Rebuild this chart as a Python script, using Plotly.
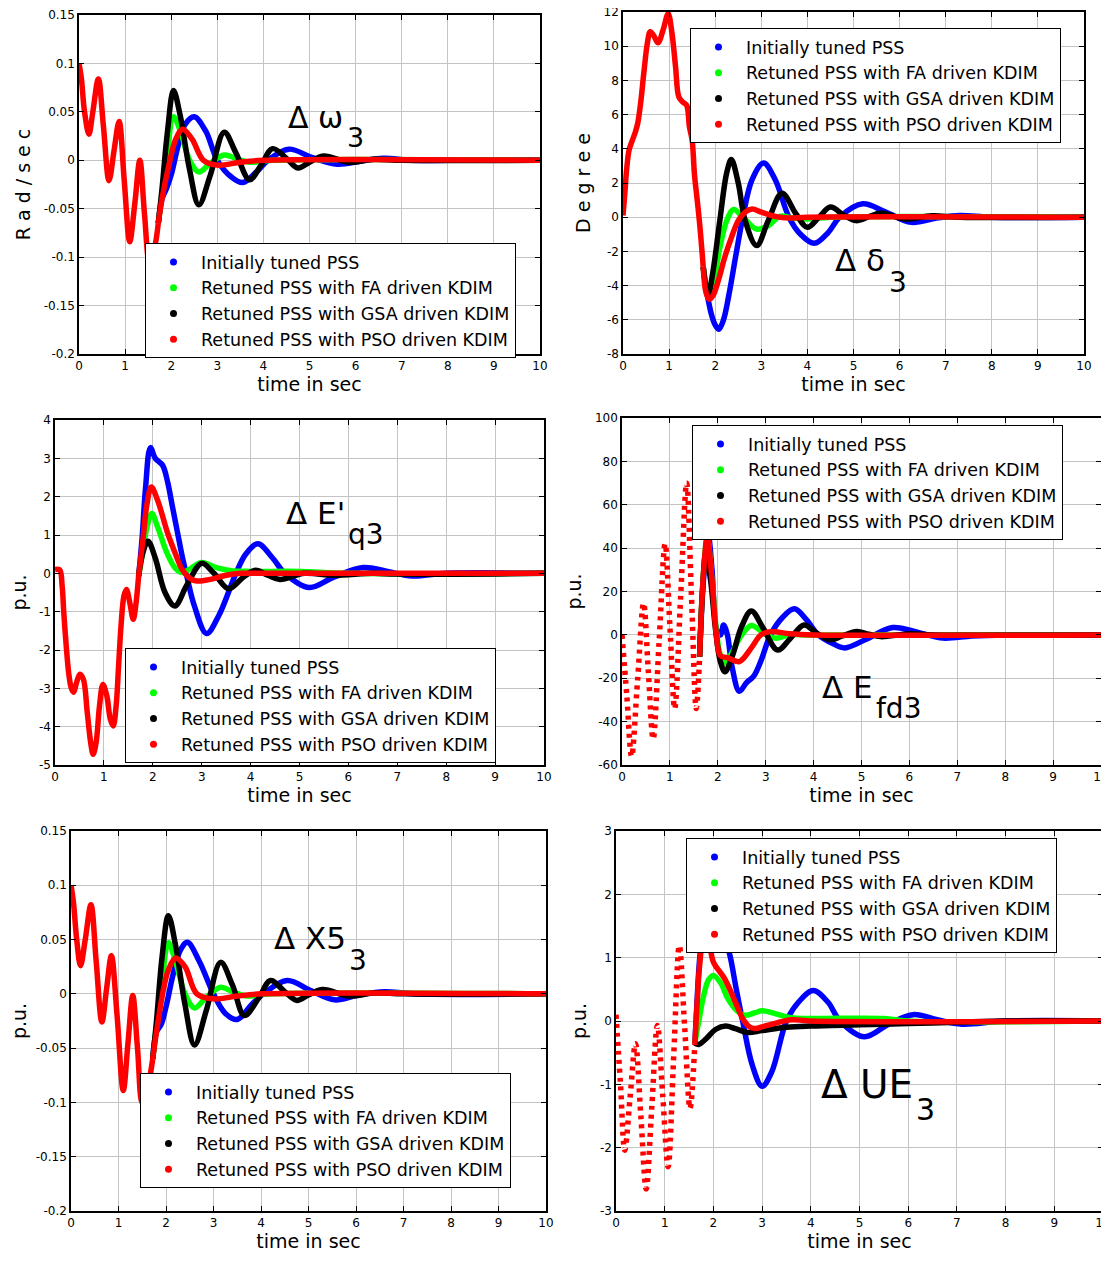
import plotly.graph_objects as go

W, H = 1109, 1261
OFF = 8  # page body margin of the browser
FONT = "DejaVu Sans, Liberation Sans, Arial, sans-serif"

# ---------------- shared labels ----------------
series_names = ["Initially tuned PSS",
                "Retuned PSS with FA driven KDIM",
                "Retuned PSS with GSA driven KDIM",
                "Retuned PSS with PSO driven KDIM"]
series_colors = ["#0000ff", "#00ff00", "#000000", "#ff0000"]
x_ticks = [0, 1, 2, 3, 4, 5, 6, 7, 8, 9, 10]

# ---------------- Panel 1 : delta omega3 ----------------
w_pre_t = [0, 0.05, 0.12, 0.215, 0.3, 0.42, 0.53, 0.65, 0.76, 0.87, 0.98, 1.1, 1.21, 1.32, 1.42, 1.53, 1.64, 1.72]
w_pre_y = [0.1, 0.085, 0.05, 0.027, 0.05, 0.084, 0.035, -0.021, 0.01, 0.040, -0.02, -0.084, -0.045, 0.0, -0.055, -0.105, -0.09, -0.065]
w_blue_t = [1.72, 1.8, 1.9, 2.0, 2.15, 2.3, 2.5, 2.75, 3.0, 3.3, 3.55, 3.85, 4.1, 4.55, 5.05, 5.6, 6.1, 6.6, 7.2, 8, 10]
w_blue_y = [-0.065, -0.04, -0.029, -0.015, 0.015, 0.037, 0.045, 0.03, 0.0, -0.017, -0.023, -0.012, 0.0, 0.0115, 0.003, -0.004, -0.001, 0.002, 0.0, 0.0, 0.0]
w_green_t = [1.72, 1.8, 1.9, 2.05, 2.2, 2.4, 2.6, 2.85, 3.15, 3.4, 3.7, 4.2, 10]
w_green_y = [-0.065, -0.035, 0.0, 0.045, 0.03, 0.0, -0.012, -0.003, 0.0055, 0.002, -0.002, 0.0, 0.0]
w_black_t = [1.72, 1.8, 1.92, 2.05, 2.2, 2.4, 2.6, 2.85, 3.15, 3.4, 3.7, 3.95, 4.2, 4.5, 4.75, 5.0, 5.3, 5.85, 6.4, 7, 10]
w_black_y = [-0.065, -0.03, 0.03, 0.072, 0.045, -0.01, -0.046, -0.015, 0.029, 0.008, -0.02, -0.005, 0.012, 0.002, -0.008, -0.002, 0.0045, -0.002, 0.001, 0.0, 0.0]
w_red_t = [1.72, 1.8, 1.95, 2.1, 2.25, 2.45, 2.7, 3.0, 3.5, 4.0, 10]
w_red_y = [-0.065, -0.04, -0.005, 0.022, 0.032, 0.022, 0.0, -0.005, -0.002, 0.0, 0.0]
w_yticks = [0.15, 0.1, 0.05, 0, -0.05, -0.1, -0.15, -0.2]
w_yticktext = ["0.15", "0.1", "0.05", "0", "-0.05", "-0.1", "-0.15", "-0.2"]

# ---------------- Panel 2 : delta delta3 ----------------
d_pre_t = [0, 0.04, 0.076, 0.13, 0.19, 0.27, 0.32, 0.39, 0.45, 0.53, 0.59, 0.67, 0.76, 0.87, 0.98, 1.06, 1.14, 1.21, 1.29, 1.38, 1.44, 1.5, 1.55, 1.61, 1.67, 1.74]
d_pre_y = [0.1, 1.4, 2.7, 3.9, 4.4, 5.0, 5.5, 6.85, 8.4, 10.2, 10.85, 10.6, 10.2, 10.95, 11.9, 10.8, 8.8, 7.05, 6.75, 6.55, 5.3, 4.5, 2.5, 1.0, -0.6, -2.9]
d_blue_t = [1.74, 1.82, 1.92, 2.0, 2.08, 2.18, 2.3, 2.45, 2.6, 2.8, 3.05, 3.3, 3.6, 3.85, 4.15, 4.45, 4.7, 5.2, 5.7, 6.25, 6.8, 7.3, 8, 10]
d_blue_y = [-2.9, -4.4, -5.7, -6.3, -6.55, -6.0, -4.5, -2.2, 0.0, 2.2, 3.17, 2.2, 0.0, -1.0, -1.53, -0.9, 0.0, 0.78, 0.3, -0.3, -0.05, 0.1, 0.0, 0.0]
d_green_t = [1.74, 1.81, 1.88, 1.98, 2.1, 2.25, 2.4, 2.6, 2.9, 3.15, 3.4, 3.7, 4.0, 4.5, 10]
d_green_y = [-2.9, -4.0, -4.3, -3.6, -1.8, -0.2, 0.45, 0.0, -0.7, -0.5, 0.05, -0.05, -0.1, 0.0, 0.0]
d_black_t = [1.74, 1.8, 1.85, 1.95, 2.1, 2.25, 2.35, 2.5, 2.65, 2.9, 3.15, 3.45, 3.75, 4.0, 4.25, 4.5, 4.8, 5.05, 5.35, 5.6, 6.1, 6.7, 7.3, 10]
d_black_y = [-2.9, -4.1, -4.5, -3.2, -0.2, 2.6, 3.37, 2.0, -0.2, -1.66, -0.2, 1.4, 0.2, -0.59, 0.0, 0.59, 0.1, -0.2, 0.05, 0.25, -0.1, 0.08, 0.0, 0.0]
d_red_t = [1.74, 1.8, 1.87, 1.95, 2.1, 2.2, 2.35, 2.5, 2.65, 2.8, 3.0, 3.3, 3.6, 4.0, 10]
d_red_y = [-2.9, -4.4, -4.8, -4.6, -3.4, -2.4, -1.2, -0.2, 0.3, 0.48, 0.3, 0.05, -0.05, 0.0, 0.0]
d_yticks = [12, 10, 8, 6, 4, 2, 0, -2, -4, -6, -8]
d_yticktext = ["12", "10", "8", "6", "4", "2", "0", "-2", "-4", "-6", "-8"]

# ---------------- Panel 3 : delta E'q3 ----------------
e_pre_t = [0, 0.095, 0.146, 0.18, 0.23, 0.28, 0.33, 0.38, 0.44, 0.51, 0.58, 0.66, 0.73, 0.78, 0.84, 0.91, 0.98, 1.06, 1.13, 1.19, 1.25, 1.3, 1.35, 1.41, 1.46, 1.53, 1.6, 1.65, 1.71]
e_pre_y = [0.1, 0.09, -0.33, -1.03, -1.9, -2.6, -2.98, -3.1, -2.85, -2.63, -2.76, -3.63, -4.42, -4.72, -4.42, -3.46, -2.9, -3.2, -3.8, -3.98, -3.46, -2.42, -1.37, -0.59, -0.42, -0.77, -1.2, -0.85, -0.07]
e_blue_t = [1.71, 1.78, 1.85, 1.95, 2.05, 2.2, 2.3, 2.4, 2.5, 2.6, 2.7, 2.85, 3.1, 3.35, 3.7, 3.9, 4.15, 4.45, 4.7, 5.2, 5.7, 6.3, 6.8, 7.3, 8, 10]
e_blue_y = [-0.07, 0.9, 2.2, 3.28, 3.0, 2.82, 2.4, 1.75, 1.1, 0.45, -0.1, -0.85, -1.57, -1.1, 0.0, 0.5, 0.77, 0.4, 0.0, -0.37, -0.1, 0.15, 0.05, -0.07, 0.0, 0.0]
e_green_t = [1.71, 1.8, 1.88, 1.98, 2.1, 2.3, 2.45, 2.6, 2.8, 3.0, 3.3, 3.6, 4.0, 5.0, 6.0, 10]
e_green_y = [-0.07, 0.6, 1.2, 1.56, 1.2, 0.5, 0.15, 0.02, 0.15, 0.28, 0.15, 0.07, 0.05, 0.05, 0.0, 0.0]
e_black_t = [1.71, 1.8, 1.9, 2.05, 2.25, 2.45, 2.7, 3.0, 3.25, 3.55, 3.85, 4.1, 4.35, 4.6, 5.1, 5.7, 6.5, 7.0, 10]
e_black_y = [-0.07, 0.55, 0.84, 0.4, -0.5, -0.85, -0.3, 0.26, 0.0, -0.4, -0.1, 0.08, -0.05, -0.16, 0.0, -0.05, 0.0, -0.02, 0.0]
e_red_t = [1.71, 1.8, 1.88, 1.97, 2.1, 2.3, 2.45, 2.6, 2.75, 2.9, 3.2, 3.5, 3.8, 4.2, 10]
e_red_y = [-0.07, 0.9, 1.8, 2.25, 1.9, 1.06, 0.55, 0.1, -0.12, -0.2, -0.15, -0.05, 0.0, 0.0, 0.0]
e_yticks = [4, 3, 2, 1, 0, -1, -2, -3, -4, -5]
e_yticktext = ["4", "3", "2", "1", "0", "-1", "-2", "-3", "-4", "-5"]

# ---------------- Panel 4 : delta Efd3 ----------------
f_pre_t = [0, 0.1, 0.2, 0.325, 0.45, 0.55, 0.65, 0.775, 0.9, 1.0, 1.1, 1.225, 1.35, 1.45, 1.55, 1.62]
f_pre_y = [0, -28, -56, -21, 14.6, -17, -48, -3, 42, 4, -34, 18, 70, 18, -34, -10]
f_blue_t = [1.62, 1.7, 1.8, 1.88, 1.98, 2.06, 2.12, 2.2, 2.3, 2.45, 2.6, 2.75, 2.9, 3.1, 3.35, 3.6, 3.85, 4.1, 4.4, 4.65, 5.1, 5.65, 6.2, 6.7, 7.3, 8, 10]
f_blue_y = [-10, 25, 46, 30, 2, 0, 4.6, 0, -15, -26, -22, -19, -12, 0, 8, 12, 7, 0, -4, -6, -2, 3.4, 1, -1.5, -0.5, 0, 0]
f_green_t = [1.62, 1.7, 1.78, 1.88, 1.97, 2.05, 2.15, 2.3, 2.5, 2.7, 2.95, 3.2, 3.5, 4.0, 10]
f_green_y = [-10, 28, 45, 25, 2, -9, -13, -8, 0, 4.3, 1, -1.5, 0, 0, 0]
f_black_t = [1.62, 1.68, 1.75, 1.85, 1.95, 2.05, 2.15, 2.3, 2.5, 2.7, 2.95, 3.25, 3.5, 3.8, 4.05, 4.35, 4.6, 4.9, 5.15, 5.4, 6.0, 6.5, 10]
f_black_y = [-10, 20, 37.6, 25, 3, -12, -17, -10, 4, 11, 3, -7, -2, 4.6, 1, -2.3, -0.5, 1.5, 0.3, -0.8, 0.5, 0, 0]
f_red_t = [1.62, 1.7, 1.78, 1.88, 1.97, 2.05, 2.2, 2.45, 2.7, 2.9, 3.1, 3.5, 4.0, 10]
f_red_y = [-10, 28, 45, 25, 0, -9.5, -10.5, -12.3, -6, 0, 1.5, 0.5, 0, 0]
f_yticks = [100, 80, 60, 40, 20, 0, -20, -40, -60]
f_yticktext = ["100", "80", "60", "40", "20", "0", "-20", "-40", "-60"]

# ---------------- Panel 5 : delta X5_3 ----------------
x_pre_t = [0, 0.05, 0.12, 0.2, 0.3, 0.42, 0.53, 0.65, 0.75, 0.85, 0.97, 1.1, 1.2, 1.3, 1.4, 1.5, 1.62, 1.72]
x_pre_y = [0.1, 0.085, 0.05, 0.026, 0.05, 0.082, 0.03, -0.026, 0.005, 0.035, -0.02, -0.089, -0.045, -0.0015, -0.05, -0.1, -0.085, -0.06]
x_blue_t = [1.72, 1.8, 1.9, 2.0, 2.15, 2.3, 2.45, 2.7, 3.0, 3.25, 3.5, 3.8, 4.05, 4.55, 5.05, 5.55, 6.05, 6.6, 7.2, 10]
x_blue_y = [-0.06, -0.035, -0.028, -0.012, 0.018, 0.04, 0.0475, 0.03, 0.0, -0.018, -0.0236, -0.01, 0.0, 0.0123, 0.003, -0.0055, -0.001, 0.002, 0.0, 0.0]
x_green_t = [1.72, 1.8, 1.9, 2.05, 2.2, 2.4, 2.6, 2.85, 3.15, 3.4, 3.7, 4.2, 10]
x_green_y = [-0.06, -0.03, 0.005, 0.047, 0.03, 0.0, -0.013, -0.003, 0.006, 0.002, -0.002, 0.0, 0.0]
x_black_t = [1.72, 1.8, 1.92, 2.05, 2.2, 2.4, 2.6, 2.85, 3.15, 3.4, 3.65, 3.95, 4.2, 4.5, 4.75, 5.0, 5.3, 5.85, 6.4, 7, 10]
x_black_y = [-0.06, -0.025, 0.035, 0.072, 0.045, -0.01, -0.047, -0.015, 0.029, 0.008, -0.02, -0.004, 0.0123, 0.002, -0.006, -0.001, 0.004, -0.002, 0.001, 0.0, 0.0]
x_red_t = [1.72, 1.8, 1.95, 2.05, 2.2, 2.4, 2.65, 3.0, 3.5, 4.0, 10]
x_red_y = [-0.06, -0.035, 0.005, 0.022, 0.033, 0.025, 0.0, -0.0046, -0.002, 0.0, 0.0]
x_yticks = w_yticks
x_yticktext = w_yticktext

# ---------------- Panel 6 : delta UE3 ----------------
u_pre_t = [0, 0.09, 0.18, 0.29, 0.4, 0.51, 0.62, 0.735, 0.85, 0.96, 1.07, 1.185, 1.3, 1.41, 1.52, 1.62]
u_pre_y = [0.1, -0.97, -2.04, -1.2, -0.36, -1.5, -2.65, -1.36, -0.07, -1.18, -2.3, -0.55, 1.19, -0.1, -1.38, -0.35]
u_blue_t = [1.62, 1.66, 1.72, 1.8, 1.9, 2.0, 2.12, 2.25, 2.35, 2.47, 2.6, 2.8, 3.0, 3.2, 3.5, 3.75, 4.05, 4.35, 4.6, 5.1, 5.6, 6.1, 6.6, 7.1, 8, 10]
u_blue_y = [-0.35, 0.25, 1.0, 1.45, 1.65, 1.7, 1.6, 1.3, 1.0, 0.5, 0.0, -0.7, -1.03, -0.8, 0.0, 0.3, 0.48, 0.3, 0.0, -0.25, -0.05, 0.1, 0.02, -0.05, 0.0, 0.0]
u_green_t = [1.62, 1.7, 1.8, 1.9, 2.0, 2.15, 2.3, 2.5, 2.65, 2.85, 3.0, 3.25, 3.6, 4.0, 5.5, 6.0, 10]
u_green_y = [-0.35, 0.0, 0.4, 0.65, 0.72, 0.6, 0.35, 0.15, 0.09, 0.13, 0.16, 0.12, 0.05, 0.04, 0.04, 0.0, 0.0]
u_black_t = [1.62, 1.7, 1.85, 2.05, 2.25, 2.45, 2.7, 3.0, 3.5, 4.0, 5.0, 6.0, 7.0, 8.0, 10]
u_black_y = [-0.35, -0.37, -0.28, -0.13, -0.08, -0.12, -0.18, -0.15, -0.1, -0.08, -0.06, -0.04, -0.02, 0.0, 0.0]
u_red_t = [1.62, 1.66, 1.72, 1.8, 1.88, 2.0, 2.23, 2.45, 2.6, 2.72, 2.85, 3.05, 3.3, 3.6, 4.0, 10]
u_red_y = [-0.35, 0.2, 0.9, 1.3, 1.3, 0.93, 0.67, 0.3, 0.04, -0.08, -0.12, -0.08, -0.03, 0.02, 0.0, 0.0]
u_yticks = [3, 2, 1, 0, -1, -2, -3]
u_yticktext = ["3", "2", "1", "0", "-1", "-2", "-3"]

# ---------------- layout geometry (reference pixels) ----------------
def px_x(v):
    return (v - OFF) / W

def px_y(v):
    return 1 - (v - OFF) / H

panels = [
    dict(box=(79, 540, 15, 354), yr=(-0.2, 0.15), yt=w_yticks, ytt=w_yticktext, ytitle="R a d / s e c",
         pre=(w_pre_t, w_pre_y), pre_dash="solid",
         post=[(w_blue_t, w_blue_y), (w_green_t, w_green_y), (w_black_t, w_black_y), (w_red_t, w_red_y)],
         legend=(145, 243),
         label=("Δ ω", 30, 345, 128, "3", 27, 345, 147)),
    dict(box=(623, 1084, 12, 354), yr=(-8, 12), yt=d_yticks, ytt=d_yticktext, ytitle="D e g r e e",
         pre=(d_pre_t, d_pre_y), pre_dash="solid",
         post=[(d_blue_t, d_blue_y), (d_green_t, d_green_y), (d_black_t, d_black_y), (d_red_t, d_red_y)],
         legend=(690, 28),
         label=("Δ δ", 31, 887, 271, "3", 28, 887, 292)),
    dict(box=(55, 544, 420, 765), yr=(-5, 4), yt=e_yticks, ytt=e_yticktext, ytitle="p.u.",
         pre=(e_pre_t, e_pre_y), pre_dash="solid",
         post=[(e_blue_t, e_blue_y), (e_green_t, e_green_y), (e_black_t, e_black_y), (e_red_t, e_red_y)],
         legend=(125, 648),
         label=("Δ E'", 31, 347, 524, "q3", 28, 346, 544)),
    dict(box=(622, 1101, 418, 765), yr=(-60, 100), yt=f_yticks, ytt=f_yticktext, ytitle="p.u.",
         pre=(f_pre_t, f_pre_y), pre_dash="4px,5px",
         post=[(f_blue_t, f_blue_y), (f_green_t, f_green_y), (f_black_t, f_black_y), (f_red_t, f_red_y)],
         legend=(692, 425),
         label=("Δ E", 31, 875, 698, "fd3", 28, 874, 718)),
    dict(box=(71, 546, 831, 1211), yr=(-0.2, 0.15), yt=x_yticks, ytt=x_yticktext, ytitle="p.u.",
         pre=(x_pre_t, x_pre_y), pre_dash="solid",
         post=[(x_blue_t, x_blue_y), (x_green_t, x_green_y), (x_black_t, x_black_y), (x_red_t, x_red_y)],
         legend=(140, 1073),
         label=("Δ X5", 31, 348, 949, "3", 28, 347, 970)),
    dict(box=(616, 1103, 831, 1211), yr=(-3, 3), yt=u_yticks, ytt=u_yticktext, ytitle="p.u.",
         pre=(u_pre_t, u_pre_y), pre_dash="4px,5px",
         post=[(u_blue_t, u_blue_y), (u_green_t, u_green_y), (u_black_t, u_black_y), (u_red_t, u_red_y)],
         legend=(686, 838),
         label=("Δ UE", 39, 915, 1098, "3", 30, 914, 1120)),
]

fig = go.Figure()
layout = dict(width=W, height=H, margin=dict(l=0, r=0, t=0, b=0, autoexpand=False),
              paper_bgcolor="white", plot_bgcolor="white",
              font=dict(family=FONT, color="black"), showlegend=True)
annotations = []

LW = 5.5
for i, p in enumerate(panels):
    n = i + 1
    xa = "x" if n == 1 else f"x{n}"
    ya = "y" if n == 1 else f"y{n}"
    lg = "legend" if n == 1 else f"legend{n}"
    x0, x1, yt0, yb0 = p["box"]
    # series after separation
    for (tt, yy), nm, col in zip(p["post"], series_names, series_colors):
        fig.add_trace(go.Scatter(x=tt, y=yy, mode="lines", xaxis=xa, yaxis=ya,
                                 line=dict(color=col, width=LW, shape="spline", smoothing=1.0),
                                 showlegend=False, hoverinfo="skip"))
    # common pre-separation part (red drawn on top)
    fig.add_trace(go.Scatter(x=p["pre"][0], y=p["pre"][1], mode="lines", xaxis=xa, yaxis=ya,
                             line=dict(color=series_colors[3], width=LW, shape="spline",
                                       smoothing=1.0, dash=p["pre_dash"]),
                             showlegend=False, hoverinfo="skip"))
    # legend entries (empty traces, marker only)
    for nm, col in zip(series_names, series_colors):
        fig.add_trace(go.Scatter(x=[None], y=[None], mode="markers", xaxis=xa, yaxis=ya,
                                 marker=dict(color=col, size=7), name=nm, legend=lg))
    axis_common = dict(showline=True, linecolor="black", linewidth=1.5, mirror="ticks",
                       ticks="inside", ticklen=5, tickcolor="black", tickwidth=1,
                       showgrid=True, gridcolor="#c4c4c4", gridwidth=1, zeroline=False,
                       automargin=False, ticklabeloverflow="allow",
                       tickfont=dict(family=FONT, size=12, color="black"))
    layout["xaxis" if n == 1 else f"xaxis{n}"] = dict(
        axis_common, domain=[px_x(x0), px_x(x1)], range=[0, 10], tickvals=x_ticks,
        anchor=ya, title=dict(text="time in sec", font=dict(family=FONT, size=19), standoff=4))
    layout["yaxis" if n == 1 else f"yaxis{n}"] = dict(
        axis_common, domain=[px_y(yb0), px_y(yt0)], range=list(p["yr"]), tickvals=p["yt"],
        ticktext=p["ytt"], anchor=xa,
        title=dict(text=p["ytitle"], font=dict(family=FONT, size=19), standoff=8))
    lx, ly = p["legend"]
    layout[lg] = dict(x=px_x(lx), y=px_y(ly), xanchor="left", yanchor="top",
                      xref="paper", yref="paper",
                      bgcolor="white", bordercolor="black", borderwidth=1,
                      font=dict(family=FONT, size=17.5, color="black"),
                      itemwidth=45, tracegroupgap=0)
    mt, ms, mx, mb, st, ss, sx, sb = p["label"]
    annotations.append(dict(
        text=mt, x=px_x(mx), y=px_y(mb - 0.3465 * ms), xref="paper", yref="paper",
        xanchor="right", yanchor="middle", showarrow=False,
        font=dict(family=FONT, size=ms, color="black")))
    annotations.append(dict(
        text=st, x=px_x(sx), y=px_y(sb - 0.3465 * ss), xref="paper", yref="paper",
        xanchor="left", yanchor="middle", showarrow=False,
        font=dict(family=FONT, size=ss, color="black")))

layout["annotations"] = annotations
fig.update_layout(**layout)
fig.write_html("out.html")
